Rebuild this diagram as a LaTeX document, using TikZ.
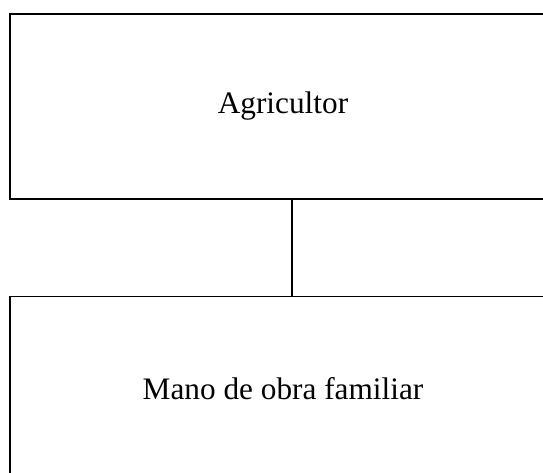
\documentclass[tikz,border=0pt]{standalone}
\usepackage{fontspec}
\setmainfont{Liberation Serif}
\usetikzlibrary{positioning}

\tikzset{
  box/.style={draw, line width=0.8pt, minimum width=10.92cm, minimum height=3.7cm, inner sep=0pt,
    font=\fontsize{17.8}{21}\selectfont},
  link/.style={line width=0.8pt}
}

\begin{document}
\begin{tikzpicture}[scale=1, transform shape]
\useasboundingbox (0,0) rectangle (10.86,9.44);
\clip (0,0) rectangle (10.86,9.44);

% Agricultor
\node [box] (agr) at (5.66,7.31) {Agricultor};

% Mano de obra familiar
\node [box, below=1.92cm of agr] (mano) {Mano de obra familiar};

% Enlace
\draw [link] ([xshift=0.18cm]agr.south) -- ([xshift=0.18cm]mano.north);
\end{tikzpicture}
\end{document}
